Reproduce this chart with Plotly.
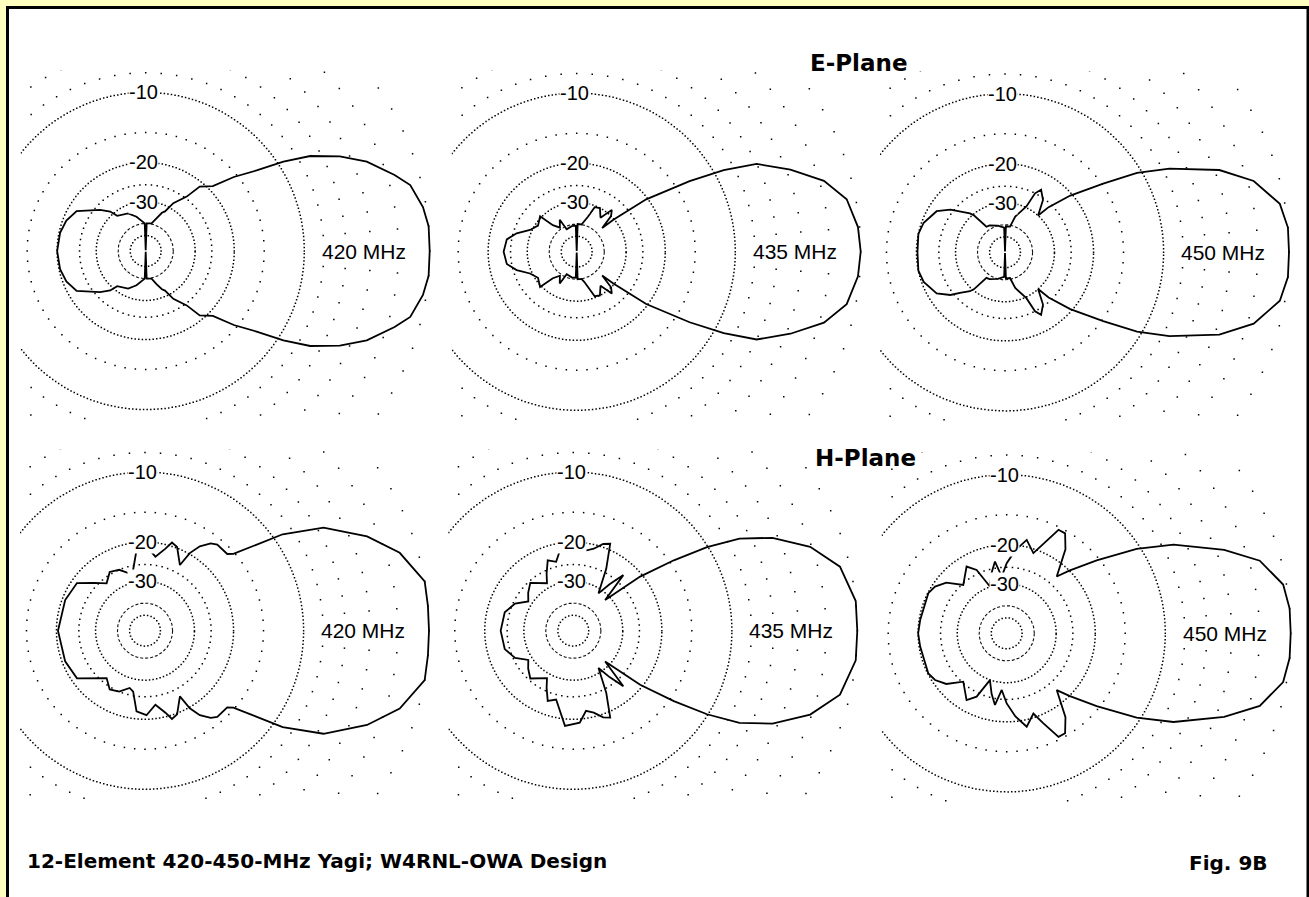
import numpy as np
import plotly.graph_objects as go

W, H = 1309, 897
R_PX = 284  # radius of the 0 dB ring in pixels

FREQS = ["420 MHz", "435 MHz", "450 MHz"]
RING_LABELS = [-10, -20, -30]
FLOOR = -100  # below plot floor -> drawn at centre

# upper half of each pattern (0..180 deg), lower half is the mirror image
E420_ANG = [0, 5, 9, 14, 17, 22, 26, 30, 33, 36, 40, 44, 50, 53, 60, 64, 67, 72, 78, 88, 90,
            92, 105, 115, 129, 132, 138, 150, 159, 168, 180]
E420_DB = [0, 0, -0.2, -0.7, -1.5, -3, -4.7, -6.9, -9.4, -12.5, -15.5, -19.1, -20.9, -24.5, -28.1,
           -32, -33, -36, -39.6, -40, FLOOR, -40, -35.7, -33, -31.5, -28.8, -26.3, -21.8, -20.7, -20.2, -20]

E435_ANG = [0, 5, 11, 16, 21, 26, 29, 32, 37, 41, 43, 46, 50, 55, 62, 68, 72, 76, 80, 88, 90,
            92, 101, 114, 118, 125, 132, 136, 146, 155, 163, 170, 180]
E435_DB = [0, -0.1, -0.55, -1.7, -3.7, -6, -9, -13, -20.3, -30.3, -36, -30, -28.3, -33, -30, -30.5,
           -35, -38, -40, -40, FLOOR, -41, -41, -42, -35.4, -39, -35.6, -29.5, -31, -29.3, -25.9, -23.8, -23.3]

E450_ANG = [0, 5, 10, 16, 21, 27, 31, 35, 41, 46, 48, 54, 60, 63, 65, 74, 79, 88, 90,
            92, 105, 120, 126, 130, 132, 138, 142, 149, 160, 168, 180]
E450_DB = [0, 0, -0.3, -1.6, -3.65, -7.4, -10.5, -14.8, -20.4, -25.9, -30, -25.4, -23.5, -25, -29.6,
           -34.9, -40.9, -41, FLOOR, -42, -40, -38, -37.7, -30.5, -29, -26.5, -24.2, -21.8, -20.4, -20, -20.2]

H420_ANG = [0, 5, 10, 17, 23, 30, 35, 41, 43, 50, 53, 57, 60, 62, 69, 73, 76, 82, 89, 96, 101, 105,
            113, 121, 129, 137, 145, 159, 180]
H420_DB = [0, 0, 0, -1.1, -2.8, -5.5, -9, -15.2, -15.9, -15.9, -16.4, -17.8, -19.8, -23, -19.8, -19.3,
           -20.8, -22.9, -20.8, -21.5, -26.1, -26.9, -25, -24.4, -26.4, -24, -21.1, -20.6, -20.3]

H435_ANG = [0, 6, 13.5, 19.5, 25, 29, 32, 35, 39, 44, 48, 52, 56, 62, 67, 71, 76, 81, 86, 95, 104,
            110, 115, 119, 132, 140, 147, 155, 165, 180]
H435_DB = [0, 0, -0.6, -2.1, -4.4, -6.9, -10.1, -14.4, -20.5, -31.9, -22.9, -27, -31.6, -24, -18.9,
           -19.4, -20.8, -21.5, -19.3, -18.7, -23.8, -22.9, -25.8, -28.4, -25.5, -27, -28.6, -25.5, -23.8, -23.4]

H450_ANG = [0, 5, 10, 16, 21, 28, 33, 39, 45, 48.6, 55, 59.7, 63.4, 68, 71.6, 77.9, 84, 90, 95, 99.3,
            104, 109.7, 115.4, 121, 131.9, 140, 146.9, 152.9, 171.3, 180]
H450_DB = [0, 0, -0.2, -1.3, -3.4, -7, -10.4, -15.4, -20, -22.7, -17.5, -15.4, -15.4, -18.5, -20.8,
           -18.7, -21, -24, -27.6, -23.4, -26, -29.9, -24, -22.2, -25.3, -22, -20.6, -20.1, -20.2, -20]

PATTERNS = [(E420_ANG, E420_DB), (E435_ANG, E435_DB), (E450_ANG, E450_DB),
            (H420_ANG, H420_DB), (H435_ANG, H435_DB), (H450_ANG, H450_DB)]

# pixel centre of each panel, and how far each panel window reaches from it
CENTERS = [(145.7, 251), (576.7, 251.7), (1005, 252.3), (145, 630.7), (573.3, 630.7), (1006.7, 633.3)]
LEFT, RIGHT, TOP, BOTTOM = 125, 295, 181, 170

DENSE_RINGS = [-10, -20, -30, -50]           # dot every ~3.5 px
SPARSE_RINGS = [0, -2, -4, -6, -8, -15, -25]  # dot every 5 degrees


def arrl(db):
    # ARRL log scale: radius * 0.89 for every 2 dB down
    return 0.89 ** (-np.asarray(db, dtype=float) / 2)


def xy(ang_deg, db):
    r = arrl(db)
    t = np.radians(ang_deg)
    return r * np.cos(t), r * np.sin(t)


fig = go.Figure()
dots = dict(color="black", size=1.5, symbol="square", line_width=0)

for k, ((ang, db), (cx, cy)) in enumerate(zip(PATTERNS, CENTERS), start=1):
    xa = "x" if k == 1 else f"x{k}"
    ya = "y" if k == 1 else f"y{k}"

    for lev in DENSE_RINGS:
        step = np.degrees(3.6 / (float(arrl(lev)) * R_PX))
        a = np.arange(0, 360, step)
        gx, gy = xy(a, [lev] * len(a))
        fig.add_trace(go.Scatter(x=gx, y=gy, mode="markers", xaxis=xa, yaxis=ya,
                                 marker=dots, hoverinfo="skip"))
    # -40 ring drawn as short dashes
    full = np.linspace(0, 360, 721)
    gx, gy = xy(full, [-40] * len(full))
    fig.add_trace(go.Scatter(x=gx, y=gy, mode="lines", xaxis=xa, yaxis=ya,
                             line=dict(color="#111", width=1.1, dash="3px,2px"), hoverinfo="skip"))
    a5 = np.arange(0, 360, 5)
    for lev in SPARSE_RINGS:
        gx, gy = xy(a5, [lev] * len(a5))
        fig.add_trace(go.Scatter(x=gx, y=gy, mode="markers", xaxis=xa, yaxis=ya,
                                 marker=dots, hoverinfo="skip"))

    # pattern, mirrored for the lower half
    ang = np.array(ang, dtype=float)
    db = np.array(db, dtype=float)
    a_all = np.concatenate([ang, 360 - ang[::-1][1:]])
    d_all = np.concatenate([db, db[::-1][1:]])
    px, py = xy(a_all, d_all)
    fig.add_trace(go.Scatter(x=px, y=py, mode="lines", xaxis=xa, yaxis=ya,
                             line=dict(color="black", width=1.8), hoverinfo="skip"))

    for lev in RING_LABELS:
        fig.add_annotation(x=-0.008, y=float(arrl(lev)), xref=xa, yref=ya, text=str(lev),
                           xanchor="center", yanchor="middle",
                           showarrow=False, bgcolor="white", borderpad=0,
                           font=dict(family="Liberation Sans", size=20, color="black"))
    fig.add_annotation(x=175 / R_PX, y=0, xref=xa, yref=ya, text=FREQS[(k - 1) % 3],
                       xanchor="left", yanchor="middle", showarrow=False, bgcolor="white", borderpad=0,
                       font=dict(family="Liberation Sans", size=21, color="black"))

    ax = dict(visible=False, showgrid=False, zeroline=False)
    fig.update_layout({
        ("xaxis" if k == 1 else f"xaxis{k}"): dict(ax, domain=[(cx - LEFT) / W, (cx + RIGHT) / W],
                                                  range=[-LEFT / R_PX, RIGHT / R_PX], anchor=ya),
        ("yaxis" if k == 1 else f"yaxis{k}"): dict(ax, domain=[1 - (cy + BOTTOM) / H, 1 - (cy - TOP) / H],
                                                  range=[-BOTTOM / R_PX, TOP / R_PX], anchor=xa),
    })

bold = dict(family="DejaVu Sans", color="black")
fig.add_annotation(x=859 / W, y=1 - 63.5 / H, xref="paper", yref="paper", text="<b>E-Plane</b>",
                   xanchor="center", yanchor="middle", showarrow=False, font=dict(bold, size=23))
fig.add_annotation(x=865 / W, y=1 - 458 / H, xref="paper", yref="paper", text="<b>H-Plane</b>",
                   xanchor="center", yanchor="middle", showarrow=False, font=dict(bold, size=23))
fig.add_annotation(x=25 / W, y=1 - 861 / H, xref="paper", yref="paper", xanchor="left", yanchor="middle",
                   text="<b>12-Element 420-450-MHz Yagi; W4RNL-OWA Design</b>",
                   showarrow=False, font=dict(bold, size=20))
fig.add_annotation(x=1270 / W, y=1 - 863 / H, xref="paper", yref="paper", xanchor="right", yanchor="middle",
                   text="<b>Fig. 9B</b>", showarrow=False, font=dict(bold, size=20))

# white sheet with a black frame on the pale yellow page
fig.add_shape(type="rect", xref="paper", yref="paper", x0=7.5 / W, x1=1308 / W,
              y0=-0.004, y1=1 - 7.5 / H, line=dict(color="black", width=3),
              fillcolor="white", layer="below")

fig.update_layout(width=W, height=H, margin=dict(l=0, r=0, t=0, b=0), showlegend=False,
                  paper_bgcolor="#FFFFC0", plot_bgcolor="rgba(0,0,0,0)")

fig.write_html("out.html", config={"displayModeBar": False},
               post_script="document.body.style.margin='0px';")
